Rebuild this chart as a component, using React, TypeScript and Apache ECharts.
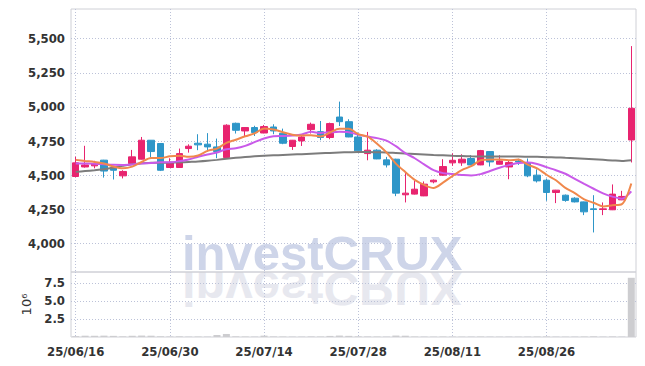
import React, { useEffect, useRef } from 'react';
import * as echarts from 'echarts';

const dates = [
  '25/06/16', '25/06/17', '25/06/18', '25/06/19', '25/06/20', '25/06/23', '25/06/24', '25/06/25', '25/06/26', '25/06/27',
  '25/06/30', '25/07/01', '25/07/02', '25/07/03', '25/07/04', '25/07/07', '25/07/08', '25/07/09', '25/07/10', '25/07/11',
  '25/07/14', '25/07/15', '25/07/16', '25/07/17', '25/07/18', '25/07/21', '25/07/22', '25/07/23', '25/07/24', '25/07/25',
  '25/07/28', '25/07/29', '25/07/30', '25/07/31', '25/08/01', '25/08/04', '25/08/05', '25/08/06', '25/08/07', '25/08/08',
  '25/08/11', '25/08/12', '25/08/13', '25/08/14', '25/08/18', '25/08/19', '25/08/20', '25/08/21', '25/08/22', '25/08/25',
  '25/08/26', '25/08/27', '25/08/28', '25/08/29', '25/09/01', '25/09/02', '25/09/03', '25/09/04', '25/09/05', '25/09/08',
];

const opens = [
  4490, 4560, 4568, 4610, 4556, 4495, 4585, 4617, 4756, 4732,
  4556, 4556, 4695, 4734, 4727, 4707, 4629, 4880, 4824, 4849,
  4809, 4853, 4807, 4710, 4751, 4834, 4819, 4776, 4926, 4892,
  4780, 4658, 4683, 4612, 4617, 4356, 4361, 4348, 4451, 4500,
  4590, 4590, 4622, 4575, 4673, 4580, 4560, 4604, 4592, 4500,
  4463, 4373, 4353, 4331, 4304, 4253, 4248, 4246, 4319, 4758,
];
const closes = [
  4590, 4575, 4585, 4530, 4536, 4527, 4634, 4756, 4673, 4536,
  4592, 4658, 4712, 4722, 4707, 4673, 4866, 4829, 4849, 4812,
  4856, 4824, 4734, 4756, 4780, 4873, 4776, 4878, 4892, 4780,
  4678, 4683, 4619, 4575, 4368, 4368, 4397, 4434, 4463, 4563,
  4609, 4617, 4575, 4680, 4597, 4604, 4592, 4597, 4495, 4458,
  4373, 4390, 4315, 4304, 4231, 4248, 4253, 4361, 4344, 4990,
];
const lows = [
  4485, 4555, 4550, 4482, 4468, 4476, 4583, 4615, 4629, 4530,
  4555, 4555, 4665, 4683, 4673, 4624, 4627, 4805, 4787, 4787,
  4807, 4800, 4727, 4685, 4714, 4805, 4756, 4763, 4860, 4778,
  4676, 4609, 4617, 4556, 4346, 4300, 4358, 4346, 4440, 4495,
  4568, 4568, 4573, 4573, 4563, 4578, 4470, 4575, 4485, 4446,
  4312, 4295, 4305, 4300, 4207, 4080, 4207, 4244, 4317, 4593,
];
const highs = [
  4635, 4715, 4605, 4612, 4568, 4536, 4685, 4780, 4757, 4733,
  4624, 4695, 4726, 4800, 4808, 4768, 4873, 4885, 4851, 4862,
  4868, 4873, 4841, 4758, 4795, 4885, 4897, 4885, 5039, 4910,
  4812, 4817, 4690, 4634, 4620, 4524, 4458, 4454, 4468, 4617,
  4660, 4653, 4646, 4685, 4675, 4646, 4605, 4620, 4622, 4543,
  4475, 4392, 4358, 4338, 4306, 4353, 4300, 4432, 4385, 5446,
];
const volumes = [
  120000, 180000, 170000, 190000, 160000, 90000, 170000, 200000, 180000, 100000,
  80000, 90000, 60000, 70000, 60000, 280000, 420000, 90000, 70000, 60000,
  190000, 80000, 70000, 60000, 60000, 80000, 70000, 150000, 200000, 160000,
  90000, 80000, 70000, 60000, 200000, 180000, 70000, 60000, 50000, 70000,
  60000, 50000, 60000, 70000, 60000, 50000, 60000, 50000, 60000, 70000,
  80000, 60000, 50000, 60000, 70000, 90000, 60000, 80000, 60000, 8200000,
];
const ma5 = [
  4612, 4604, 4597, 4585, 4563.2, 4550.6, 4562.4, 4596.6, 4625.2, 4625.2,
  4638.2, 4643, 4634.2, 4644, 4678.2, 4694.4, 4736, 4759.4, 4784.8, 4805.8,
  4842.4, 4834, 4815, 4796.4, 4790, 4793.4, 4783.8, 4812.6, 4839.8, 4839.8,
  4800.8, 4782.2, 4730.4, 4667, 4584.6, 4522.6, 4465.4, 4428.4, 4406, 4445,
  4493.2, 4537.2, 4565.4, 4608.8, 4615.6, 4614.6, 4609.6, 4614, 4577, 4549.2,
  4503, 4462.6, 4406.2, 4368, 4322.6, 4297.6, 4270.2, 4279.4, 4287.4, 4439.2,
];
const ma10 = [
  4586, 4585, 4584, 4580, 4576, 4575, 4579, 4586, 4589, 4594.2,
  4594.4, 4602.7, 4615.4, 4634.6, 4651.7, 4666.3, 4689.5, 4696.8, 4714.4, 4742,
  4768.4, 4785, 4787.2, 4790.6, 4797.9, 4817.9, 4808.9, 4813.8, 4818.1, 4814.9,
  4797.1, 4783, 4771.5, 4753.4, 4712.2, 4661.7, 4623.8, 4579.4, 4536.5, 4514.8,
  4507.9, 4501.3, 4496.9, 4507.4, 4530.3, 4553.9, 4573.4, 4589.7, 4592.9, 4582.4,
  4558.8, 4536.1, 4510.1, 4472.5, 4435.9, 4400.3, 4366.4, 4342.8, 4327.7, 4380.9,
];
const ma60 = [
  4524, 4530, 4536, 4543, 4555, 4568, 4580, 4588, 4590, 4591,
  4592, 4594, 4597, 4600, 4605, 4612, 4620, 4627, 4633, 4638,
  4642, 4645, 4648, 4651, 4654, 4657, 4660, 4663, 4666, 4668,
  4670, 4670, 4668, 4666, 4662, 4658, 4655, 4652, 4648, 4645,
  4642, 4640, 4638, 4637, 4636, 4636, 4636, 4636, 4635, 4634,
  4632, 4630, 4627, 4624, 4620, 4616, 4612, 4608, 4604, 4609,
];
const priceTicks = [4000, 4250, 4500, 4750, 5000, 5250, 5500];
const volumeTicks = [2500000, 5000000, 7500000];

export default function App() {
  const ref = useRef<HTMLDivElement>(null);

  useEffect(() => {
    document.body.style.margin = '0';
    const chart = echarts.init(ref.current as HTMLDivElement, undefined, { renderer: 'svg' });
    const candleData = dates.map((_, i) => [opens[i], closes[i], lows[i], highs[i]]);
    const labelFont = "'DejaVu Sans Condensed', 'DejaVu Sans', sans-serif";
    const gridLine = { show: true, lineStyle: { color: '#bcc2d8', type: [1, 2], width: 1 } };
    const vLine = { ...gridLine, interval: (i: number) => i % 10 === 0, alignWithLabel: true };
    const wmFont = "bold 49px 'Liberation Sans', Arial, sans-serif";

    const option: any = {
      animation: false,
      graphic: [
        {
          type: 'text', x: 182, y: 271, z: -1, silent: true,
          style: { text: 'investCRUX', x: 0, y: -18, font: wmFont, fill: '#ced5e9', textVerticalAlign: 'middle' },
        },
        {
          type: 'text', x: 182, y: 271, scaleY: -1, z: -1, silent: true,
          style: { text: 'investCRUX', x: 0, y: -18, font: wmFont, fill: '#e7e8ef', textVerticalAlign: 'middle' },
        },
      ],
      grid: [
        { left: 71, right: 9, top: 9, height: 263, show: true, borderColor: '#cfd0d6', borderWidth: 1 },
        { left: 71, right: 9, top: 272, height: 65, show: true, borderColor: '#cfd0d6', borderWidth: 1 },
      ],
      xAxis: [
        {
          type: 'category', gridIndex: 0, data: dates, boundaryGap: true,
          axisLine: { show: false }, axisTick: { show: false }, axisLabel: { show: false },
          splitLine: vLine,
        },
        {
          type: 'category', gridIndex: 1, data: dates, boundaryGap: true,
          axisLine: { show: false }, axisTick: { show: false },
          axisLabel: {
            interval: (i: number) => i % 10 === 0,
            fontFamily: labelFont, fontWeight: 'bold', fontSize: 13, color: '#333', margin: 8,
          },
          splitLine: vLine,
        },
      ],
      yAxis: [
        {
          type: 'value', gridIndex: 0, min: 3790, max: 5718,
          axisLine: { show: false },
          axisTick: { show: false, customValues: priceTicks },
          axisLabel: {
            customValues: priceTicks,
            formatter: (v: number) => v.toLocaleString('en-US'),
            fontFamily: labelFont, fontWeight: 'bold', fontSize: 13, color: '#333', margin: 6,
          },
          splitLine: gridLine,
        },
        {
          type: 'value', gridIndex: 1, min: 0, max: 9000000,
          name: '10⁶', nameLocation: 'middle', nameGap: 27, nameRotate: 90,
          nameTextStyle: { fontFamily: 'DejaVu Sans', fontSize: 13, color: '#333' },
          axisLine: { show: false },
          axisTick: { show: false, customValues: volumeTicks },
          axisLabel: {
            customValues: volumeTicks,
            formatter: (v: number) => (v / 1000000).toFixed(1),
            fontFamily: labelFont, fontWeight: 'bold', fontSize: 13, color: '#333', margin: 6,
          },
          splitLine: gridLine,
        },
      ],
      series: [
        {
          type: 'candlestick', xAxisIndex: 0, yAxisIndex: 0, data: candleData, barWidth: 7,
          itemStyle: { color: '#e8246f', color0: '#2e96c8', borderColor: '#e8246f', borderColor0: '#2e96c8', borderWidth: 1 },
        },
        {
          type: 'line', xAxisIndex: 0, yAxisIndex: 0, data: ma60, symbol: 'none', smooth: 0.3,
          lineStyle: { color: '#7c7c7c', width: 2 }, z: 3,
        },
        {
          type: 'line', xAxisIndex: 0, yAxisIndex: 0, data: ma10, symbol: 'none', smooth: 0.3,
          lineStyle: { color: '#c95ae9', width: 2 }, z: 3,
        },
        {
          type: 'line', xAxisIndex: 0, yAxisIndex: 0, data: ma5, symbol: 'none', smooth: 0.3,
          lineStyle: { color: '#f0884c', width: 2 }, z: 3,
        },
        {
          type: 'bar', xAxisIndex: 1, yAxisIndex: 1, data: volumes, barWidth: 7,
          itemStyle: { color: '#cdcdd0' },
        },
      ],
    };
    chart.setOption(option);
    return () => chart.dispose();
  }, []);

  return <div ref={ref} style={{ width: 645, height: 366 }} />;
}
